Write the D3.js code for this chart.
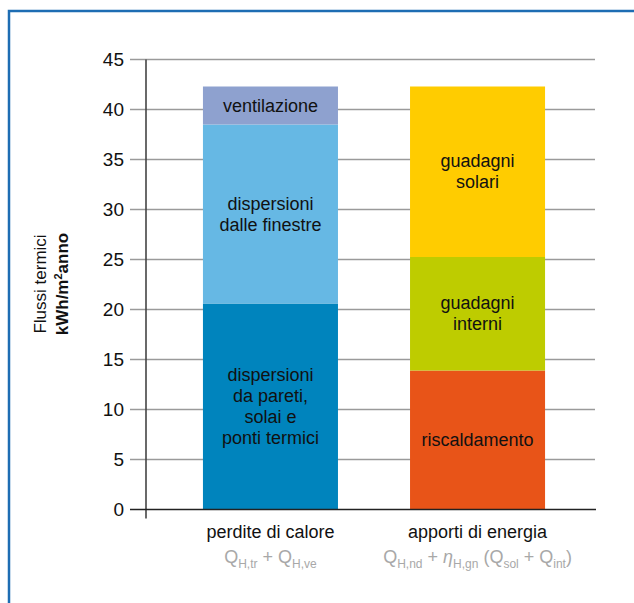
<!DOCTYPE html>
<html>
<head>
<meta charset="utf-8">
<script src="https://cdn.jsdelivr.net/npm/d3@7"></script>
<style>
  body { margin: 0; background: #fff; }
  text { font-family: "Liberation Sans", Arial, sans-serif; }
</style>
</head>
<body>
<div id="chart"></div>
<script>
// Data
const categories = ["perdite di calore", "apporti di energia"];
const perditeValues = [20.6, 17.9, 3.8];
const perditeLabels = [["dispersioni", "da pareti,", "solai e", "ponti termici"], ["dispersioni", "dalle finestre"], ["ventilazione"]];
const perditeColors = ["#0084bd", "#66b8e4", "#8ea1cf"];
const apportiValues = [13.9, 11.35, 17.05];
const apportiLabels = [["riscaldamento"], ["guadagni", "interni"], ["guadagni", "solari"]];
const apportiColors = ["#e85418", "#becc00", "#ffcc00"];
const yTicks = [0, 5, 10, 15, 20, 25, 30, 35, 40, 45];

const W = 634, H = 603;

const svg = d3.select("#chart")
    .append("svg")
    .attr("width", W)
    .attr("height", H);

// frame border (left + top)
svg.append("path")
    .attr("d", `M9,${H} V11 H${W}`)
    .attr("fill", "none")
    .attr("stroke", "#1d6db3")
    .attr("stroke-width", 2.5);

const y = d3.scaleLinear().domain([0, 45]).range([509.5, 59.5]);
const x = d3.scaleBand().domain(categories).range([146, 602])
    .paddingInner(0.348).paddingOuter(0.275);

// grid lines
svg.append("g").selectAll("line")
    .data(yTicks.filter(d => d > 0))
    .join("line")
    .attr("x1", 130).attr("x2", 595)
    .attr("y1", d => y(d)).attr("y2", d => y(d))
    .attr("stroke", "#9a9a9a")
    .attr("stroke-width", 1.3);

// y axis with labels
const yAxis = svg.append("g")
    .attr("transform", "translate(146,0)")
    .call(d3.axisLeft(y).tickValues(yTicks).tickSize(0).tickPadding(22));
yAxis.select(".domain").remove();
yAxis.selectAll("text")
    .style("font-size", "19px")
    .attr("fill", "#111");

// vertical axis line
svg.append("line")
    .attr("x1", 146).attr("x2", 146)
    .attr("y1", y(45)).attr("y2", y(0) + 9)
    .attr("stroke", "#444")
    .attr("stroke-width", 1.6);

// bars
const series = [
    {cat: categories[0], values: perditeValues, labels: perditeLabels, colors: perditeColors},
    {cat: categories[1], values: apportiValues, labels: apportiLabels, colors: apportiColors}
];

series.forEach(s => {
    let base = 0;
    const segs = s.values.map((v, i) => {
        const seg = {y0: base, y1: base + v, label: s.labels[i], color: s.colors[i]};
        base += v;
        return seg;
    });
    const g = svg.append("g");
    g.selectAll("rect")
        .data(segs)
        .join("rect")
        .attr("x", x(s.cat))
        .attr("width", x.bandwidth())
        .attr("y", d => y(d.y1))
        .attr("height", d => y(d.y0) - y(d.y1))
        .attr("fill", d => d.color);

    const lh = 21;
    g.selectAll("text.seg")
        .data(segs)
        .join("text")
        .attr("class", "seg")
        .attr("text-anchor", "middle")
        .style("font-size", "18px")
        .attr("fill", "#111")
        .each(function(d) {
            const cy = (y(d.y0) + y(d.y1)) / 2;
            const n = d.label.length;
            d3.select(this).selectAll("tspan")
                .data(d.label)
                .join("tspan")
                .attr("x", x(s.cat) + x.bandwidth() / 2)
                .attr("y", (t, j) => cy + (j - (n - 1) / 2) * lh + 6)
                .text(t => t);
        });
});

// baseline
svg.append("line")
    .attr("x1", 130).attr("x2", 596)
    .attr("y1", y(0)).attr("y2", y(0))
    .attr("stroke", "#222")
    .attr("stroke-width", 1.6);

// category labels
svg.append("g").selectAll("text")
    .data(categories)
    .join("text")
    .attr("x", d => x(d) + x.bandwidth() / 2)
    .attr("y", 538)
    .attr("text-anchor", "middle")
    .style("font-size", "18px")
    .attr("fill", "#111")
    .text(d => d);

// formulas under the categories
const formulas = [
    [["Q", 0], ["H,tr", 1], [" + Q", 0], ["H,ve", 1]],
    [["Q", 0], ["H,nd", 1], [" + ", 0], ["η", 2], ["H,gn", 1], [" (Q", 0], ["sol", 1], [" + Q", 0], ["int", 1], [")", 0]]
];
categories.forEach((c, i) => {
    const t = svg.append("text")
        .attr("x", x(c) + x.bandwidth() / 2)
        .attr("y", 563)
        .attr("text-anchor", "middle")
        .attr("fill", "#a8a8a8")
        .style("font-size", "18px");
    let sub = false;
    formulas[i].forEach(([str, kind]) => {
        const ts = t.append("tspan").text(str);
        if (kind === 1) {
            ts.style("font-size", "12px").attr("dy", sub ? 0 : 5);
            sub = true;
        } else {
            if (sub) ts.attr("dy", -5);
            sub = false;
            if (kind === 2) ts.style("font-style", "italic");
        }
    });
});

// y axis title
const title = svg.append("text")
    .attr("transform", "translate(0,284) rotate(-90)")
    .attr("text-anchor", "middle")
    .style("font-size", "17px")
    .attr("fill", "#111");
title.append("tspan").attr("x", 0).attr("y", 46).text("Flussi termici");
const t2 = title.append("tspan").attr("x", 0).attr("y", 68).style("font-weight", "bold");
t2.append("tspan").text("kWh/m");
t2.append("tspan").style("font-size", "11px").attr("dy", -6).text("2");
t2.append("tspan").attr("dy", 6).text("anno");
</script>
</body>
</html>
